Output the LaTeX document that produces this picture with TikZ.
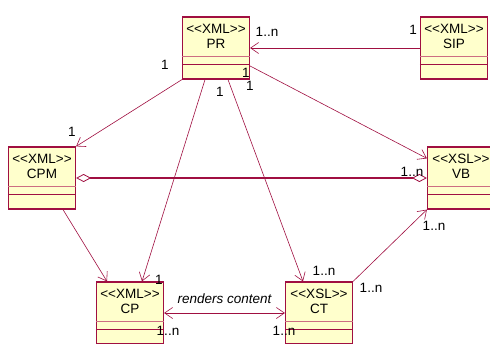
\documentclass[tikz,border=0pt]{standalone}
\usepackage{fontspec}
\newfontfamily\umlfont{Liberation Sans}
\usetikzlibrary{calc,arrows.meta}
\definecolor{umlline}{RGB}{160,15,65}
\definecolor{umlfill}{RGB}{255,255,204}
\definecolor{umlsep}{RGB}{205,110,130}

\begin{document}
\begin{tikzpicture}[x=1pt,y=-1pt,
        font={\umlfont\fontsize{13.5pt}{15pt}\selectfont},
        cls/.style={
            draw=umlline,
            fill=umlfill,
            line width=1.2pt,
            minimum width=67pt,
            minimum height=62pt,
            inner sep=0pt
        },
        hdr/.style={align=center, inner sep=0pt},
        mult/.style={inner sep=0pt},
        sepa/.style={draw=umlsep, line width=1pt},
        sepb/.style={draw=umlline, line width=1pt},
        assoc/.style={draw=umlline, line width=0.6pt,
            -{Straight Barb[length=8pt,width=11pt]}},
        twoway/.style={draw=umlline, line width=0.6pt,
            {Straight Barb[length=8pt,width=11pt]}-{Straight Barb[length=8pt,width=11pt]}},
        aggr/.style={draw=umlline, line width=1.3pt,
            {Diamond[fill=white,length=15pt,width=8pt,line width=0.8pt]}-{Diamond[fill=white,length=15pt,width=8pt,line width=0.8pt]}}
    ]
    \fill[white] (0,0) rectangle (490,343);
    \useasboundingbox (0,0) rectangle (490,343);

    % classes
    \node[cls] (PR)  at (216,48)  {};
    \node[cls] (SIP) at (454,48)  {};
    \node[cls] (CPM) at (42,178)  {};
    \node[cls] (VB)  at (461,178) {};
    \node[cls] (CP)  at (130,313) {};
    \node[cls] (CT)  at (319,313) {};

    \foreach \b/\s in {PR/XML, SIP/XML, CPM/XML, VB/XSL, CP/XML, CT/XSL}{
        \node[hdr] (\b-t) at ($(\b.north)+(0,20)$) {<<\s>>\\\b};
        \draw[sepa] ($(\b.north west)+(0,40)$) -- ($(\b.north east)+(0,40)$);
        \draw[sepb] ($(\b.north west)+(0,48)$) -- ($(\b.north east)+(0,48)$);
    }

    % associations
    \draw[assoc] (SIP.west) -- (PR.east);
    \draw[assoc] (PR.south west) -- (CPM.north east);
    \draw[assoc] ($(PR.south)+(-11,0)$) -- ($(CP.north)+(12,0)$);
    \draw[assoc] ($(PR.south)+(12,0)$) -- ($(CT.north)+(-16,0)$);
    \draw[assoc] ($(PR.east)+(0,18)$) -- ($(VB.north west)+(0,12)$);
    \draw[aggr] (CPM.east) -- (VB.west);
    \draw[assoc] ($(CPM.south)+(21,0)$) -- ($(CP.north)+(-23,0)$);
    \draw[twoway] (CP.east) -- (CT.west)
        node[midway, above=6pt, font={\umlfont\itshape\fontsize{13.5pt}{15pt}\selectfont}] (rc) {renders content};
    \draw[assoc] (CT.north east) -- (VB.south west);

    % multiplicities
    \node[mult] (m1)  at (267,32)  {1..n};
    \node[mult] (m2)  at (413,30)  {1};
    \node[mult] (m3)  at (165,65)  {1};
    \node[mult] (m4)  at (72,132)  {1};
    \node[mult] (m5)  at (246,73)  {1};
    \node[mult] (m6)  at (250,86)  {1};
    \node[mult] (m7)  at (220,92)  {1};
    \node[mult] (m8)  at (412,172) {1..n};
    \node[mult] (m9)  at (159,280) {1};
    \node[mult] (m10) at (324,271) {1..n};
    \node[mult] (m11) at (371,288) {1..n};
    \node[mult] (m12) at (434,226) {1..n};
    \node[mult] (m13) at (168,331) {1..n};
    \node[mult] (m14) at (284,331) {1..n};
\end{tikzpicture}
\end{document}
